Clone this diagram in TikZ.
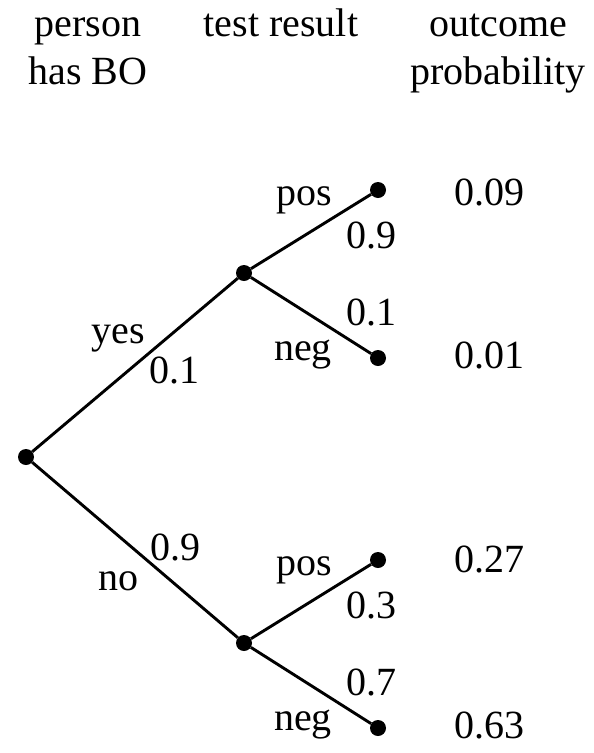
\documentclass[tikz,border=0pt]{standalone}
\usepackage{fontspec}
\setmainfont{Liberation Serif}

\tikzstyle{dot} = [circle, fill, inner sep=0pt, minimum size=16pt]
\tikzstyle{lbl} = [anchor=base, inner sep=0pt, font=\fontsize{40}{48}\selectfont]
\tikzstyle{branch} = [line width=2.9pt]

\begin{document}
\begin{tikzpicture}[x=1pt, y=-1pt]
        \useasboundingbox (0,0) rectangle (594,753);
        % column headers
        \node (hBO) at (88,84) [lbl, align=center] {person\\has BO};
        \node (hTest) at (281,36) [lbl] {test result};
        \node (hProb) at (498,84) [lbl, align=center] {outcome\\probability};
        % tree points
        \node (root) at (26,457) [dot] {};
        \node (yes) at (244,273) [dot] {};
        \node (no) at (244,643) [dot] {};
        \node (yesPos) at (378,190) [dot] {};
        \node (yesNeg) at (378,358) [dot] {};
        \node (noPos) at (378,560) [dot] {};
        \node (noNeg) at (378,728) [dot] {};
        % branches
        \draw[branch] (root) -- (yes);
        \draw[branch] (root) -- (no);
        \draw[branch] (yes) -- (yesPos);
        \draw[branch] (yes) -- (yesNeg);
        \draw[branch] (no) -- (noPos);
        \draw[branch] (no) -- (noNeg);
        % first split labels
        \node (lYes) at (118,343) [lbl] {yes};
        \node (pYes) at (174,383) [lbl] {0.1};
        \node (pNo) at (175,560) [lbl] {0.9};
        \node (lNo) at (118,590) [lbl] {no};
        % second split labels, upper
        \node (lYesPos) at (304,205) [lbl] {pos};
        \node (pYesPos) at (371,248) [lbl] {0.9};
        \node (pYesNeg) at (371,325) [lbl] {0.1};
        \node (lYesNeg) at (303,360) [lbl] {neg};
        % second split labels, lower
        \node (lNoPos) at (304,575) [lbl] {pos};
        \node (pNoPos) at (371,618) [lbl] {0.3};
        \node (pNoNeg) at (371,695) [lbl] {0.7};
        \node (lNoNeg) at (303,730) [lbl] {neg};
        % outcome probabilities
        \node (oYesPos) at (489,205) [lbl] {0.09};
        \node (oYesNeg) at (489,368) [lbl] {0.01};
        \node (oNoPos) at (489,572) [lbl] {0.27};
        \node (oNoNeg) at (489,738) [lbl] {0.63};
    \end{tikzpicture}
\end{document}
